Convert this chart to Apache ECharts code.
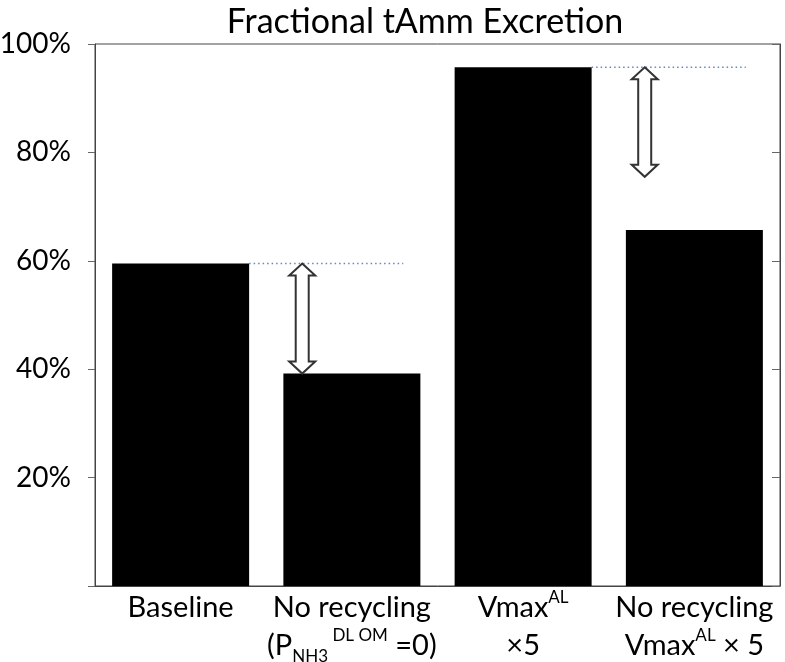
<!DOCTYPE html>
<html>
<head>
<meta charset="utf-8">
<script src="https://cdn.jsdelivr.net/npm/echarts@6/dist/echarts.min.js"></script>
<style>html,body{margin:0;padding:0;background:#fff}#c{width:785px;height:662px}</style>
</head>
<body>
<div id="c"></div>
<script>
const categories = [
  'Baseline',
  'No recycling\n(P{sub|NH3}{sup| DL OM} =0)',
  'Vmax{sup|AL}\n×5',
  'No recycling\nVmax{sup|AL} × 5'
];
const values = [59.5, 39.2, 95.7, 65.7];
const yTicks = [20, 40, 60, 80, 100];
// dotted reference lines: start category index, level
const refLineCat = [0, 2];
const refLineLevel = [59.5, 95.7];
// double arrows: category index (placed left of that bar), from, to
const arrowCat = [1, 3];
const arrowFrom = [59.5, 95.7];
const arrowTo = [39.2, 75.5];

const FONT = 'Lato, "Open Sans", sans-serif';
const chart = echarts.init(document.getElementById('c'));

chart.setOption({
  animation: false,
  backgroundColor: '#fff',
  title: {
    text: 'Fractional tAmm Excretion',
    left: 420, textAlign: 'center', top: 0,
    textStyle: { fontFamily: FONT, fontSize: 34, fontWeight: 'normal', color: '#000' }
  },
  grid: {
    left: 95, right: 5, top: 44, bottom: 76, show: true, borderColor: '#444', borderWidth: 1,
    containLabel: false, outerBoundsMode: 'none'
  },
  xAxis: {
    type: 'category', data: categories,
    axisLine: { lineStyle: { color: '#444' } },
    axisTick: { show: false },
    axisLabel: {
      interval: 0, margin: 3, color: '#000', fontFamily: FONT, fontSize: 29, lineHeight: 38,
      rich: {
        sup: { fontFamily: FONT, fontSize: 17, lineHeight: 22, verticalAlign: 'top', color: '#000' },
        sub: { fontFamily: FONT, fontSize: 17, lineHeight: 20, verticalAlign: 'bottom', color: '#000' }
      }
    }
  },
  yAxis: [{
    type: 'value', min: 0, max: 100, interval: 20,
    axisLine: { show: true, lineStyle: { color: '#444' } },
    axisTick: { show: true, length: 7, lineStyle: { color: '#666' } },
    splitLine: { show: false },
    axisLabel: {
      margin: 24, color: '#000', fontFamily: FONT, fontSize: 28,
      formatter: v => (v === 0 ? '' : v + '%')
    }
  }, {
    type: 'value', min: 0, max: 100, interval: 20, position: 'right',
    axisLine: { show: true, lineStyle: { color: '#444' } },
    axisTick: { show: true, inside: true, length: 8, lineStyle: { color: '#666' } },
    splitLine: { show: false },
    axisLabel: { show: false }
  }],
  series: [{
    type: 'bar', data: values, barCategoryGap: '20%',
    itemStyle: { color: '#000' }
  }, {
    type: 'custom',
    data: refLineCat.map((c, i) => [c, refLineLevel[i]]),
    renderItem: function (params, api) {
      const p = api.coord([api.value(0), api.value(1)]);
      const w = api.size([1, 0])[0];
      const x1 = p[0] + w * 0.4;
      const x2 = p[0] + w * 1.3;
      return {
        type: 'line', shape: { x1: x1, y1: p[1], x2: x2, y2: p[1] },
        style: { stroke: '#5b8ac4', lineWidth: 1.5, lineDash: [1.5, 3] }
      };
    }
  }, {
    type: 'custom',
    data: arrowCat.map((c, i) => [c, arrowFrom[i], arrowTo[i]]),
    z: 5,
    renderItem: function (params, api) {
      const top = api.coord([api.value(0), api.value(1)]);
      const bot = api.coord([api.value(0), api.value(2)]);
      const w = api.size([1, 0])[0];
      const cx = top[0] - w * 0.29;
      const y1 = top[1], y2 = bot[1];
      const hw = 13, sw = 6.5, hh = 12;
      const pts = [
        [cx, y1], [cx + hw, y1 + hh], [cx + sw, y1 + hh], [cx + sw, y2 - hh],
        [cx + hw, y2 - hh], [cx, y2], [cx - hw, y2 - hh], [cx - sw, y2 - hh],
        [cx - sw, y1 + hh], [cx - hw, y1 + hh]
      ];
      return {
        type: 'polygon', shape: { points: pts },
        style: { fill: '#fff', stroke: '#333', lineWidth: 2 }
      };
    }
  }]
});
</script>
</body>
</html>
